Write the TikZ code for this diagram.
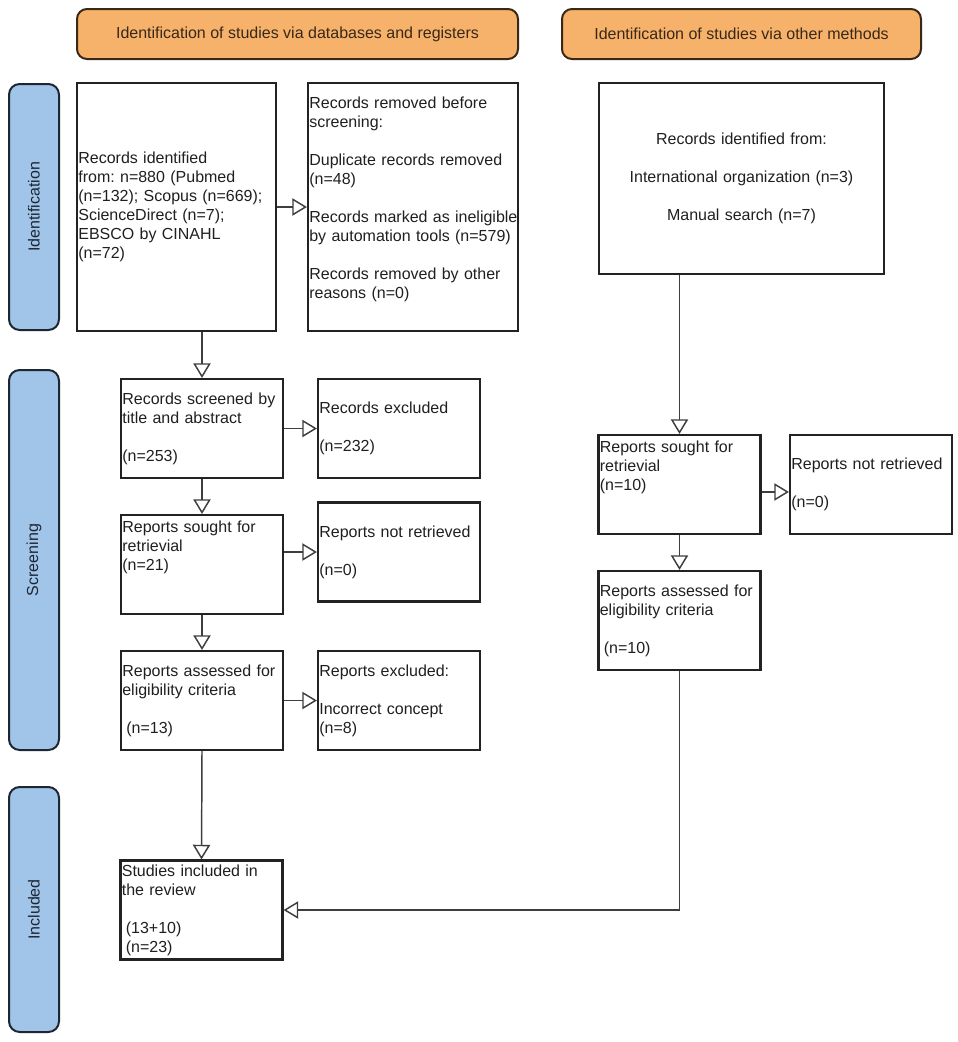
\documentclass[tikz,border=0pt]{standalone}
\usepackage{fontspec}
\setmainfont{Liberation Sans}
\usetikzlibrary{arrows.meta}
\definecolor{headfill}{RGB}{246,178,107}
\definecolor{headline}{RGB}{58,40,22}
\definecolor{sidefill}{RGB}{160,197,232}
\definecolor{sideline}{RGB}{30,38,52}
\definecolor{boxline}{RGB}{34,34,34}
\definecolor{arrgray}{RGB}{62,62,62}
\tikzset{every node/.style={font=\fontsize{12pt}{14.25pt}\selectfont\frenchspacing, text=black!88},
  box/.style={draw=boxline, line width=1.6pt, rectangle, inner xsep=1pt, inner ysep=0pt, align=left},
  sbox/.style={box, minimum width=121.5pt, text width=119.5pt, minimum height=74.25pt},
  head/.style={draw=headline, fill=headfill, line width=1.5pt, rounded corners=7.5pt, minimum height=37.5pt, text=headline},
  side/.style={draw=sideline, fill=sidefill, line width=1.5pt, rounded corners=8pt, rotate=90, minimum height=37.5pt, text=sideline},
  arr/.style={draw=arrgray, line width=1.1pt, -{Triangle[fill=white,length=11pt,width=13pt]}}}

\begin{document}
\begin{tikzpicture}[x=0.75pt,y=-0.75pt]
   \useasboundingbox (0,0) rectangle (957,1042);
   % column headers
   \node[head, minimum width=330.75pt] (hdb) at (297.5,34) {Identification of studies via databases and registers};
   \node[head, minimum width=269.25pt] (hoth) at (741.5,34) {Identification of studies via other methods};
   % phase bars
   \node[side, minimum width=184.5pt] (sid) at (34,207) {Identification};
   \node[side, minimum width=285pt] (sscr) at (34,560) {Screening};
   \node[side, minimum width=183.75pt] (sinc) at (34,909.5) {Included};
   % databases and registers
   \node[box, minimum width=149.25pt, text width=147.25pt, minimum height=186pt] (recid) at (176.5,207)
     {Records identified\\from: n=880 (Pubmed\\\mbox{(n=132); Scopus (n=669);}\\ScienceDirect (n=7);\\EBSCO by CINAHL\\(n=72)};
   \node[box, minimum width=157.5pt, text width=155.5pt, minimum height=186pt] (recrm) at (413,207)
     {Records removed before\\screening:\\[\baselineskip]Duplicate records removed\\(n=48)\\[\baselineskip]\mbox{Records marked as ineligible}\\\mbox{by automation tools (n=579)}\\[\baselineskip]Records removed by other\\reasons (n=0)\\~};
   \node[sbox] (scr) at (202,428.5) {Records screened by\\title and abstract\\[\baselineskip](n=253)};
   \node[sbox] (excl) at (399,428.5) {Records excluded\\[\baselineskip](n=232)};
   \node[sbox] (sought) at (202,564.5) {Reports sought for\\retrievial\\(n=21)\\~\\~};
   \node[sbox] (notret) at (399,552) {Reports not retrieved\\[\baselineskip](n=0)};
   \node[sbox] (assess) at (202,700.5) {Reports assessed for\\eligibility criteria\\[\baselineskip]\hspace*{3pt}(n=13)};
   \node[sbox] (repexcl) at (399,700.5) {Reports excluded:\\[\baselineskip]Incorrect concept\\(n=8)};
   \node[sbox] (incl) at (201.5,910) {Studies included in\\the review\\[\baselineskip]\hspace*{3pt}(13+10)\\\hspace*{3pt}(n=23)};
   % other methods
   \node[box, align=center, minimum width=213.75pt, text width=211.75pt, minimum height=143.25pt] (othid) at (741.5,178.5)
     {Records identified from:\\[\baselineskip]International organization (n=3)\\[\baselineskip]Manual search (n=7)};
   \node[sbox] (osought) at (679.5,484.5) {Reports sought for\\retrievial\\(n=10)\\~\\~};
   \node[sbox] (onotret) at (871,484.5) {Reports not retrieved\\[\baselineskip](n=0)};
   \node[sbox] (oassess) at (679.5,620.5) {Reports assessed for\\eligibility criteria\\[\baselineskip]\hspace*{3pt}(n=10)};
   % connectors
   \draw[arr] (recid.east) -- (recid.east -| recrm.west);
   \draw[arr] (recid.south -| scr.north) -- (scr.north);
   \draw[arr] (scr.east) -- (excl.west);
   \draw[arr] (scr.south) -- (sought.north);
   \draw[arr] (notret.west -| sought.east) -- (notret.west);
   \draw[arr] (sought.south) -- (assess.north);
   \draw[arr] (assess.east) -- (repexcl.west);
   \draw[arr] (assess.south) -- (incl.north);
   \draw[arr] (othid.south -| osought.north) -- (osought.north);
   \draw[arr] ([yshift=-5.6pt]osought.east) -- ([yshift=-5.6pt]onotret.west);
   \draw[arr] (osought.south) -- (oassess.north);
   \draw[arr] (oassess.south) |- (incl.east);
\end{tikzpicture}
\end{document}
